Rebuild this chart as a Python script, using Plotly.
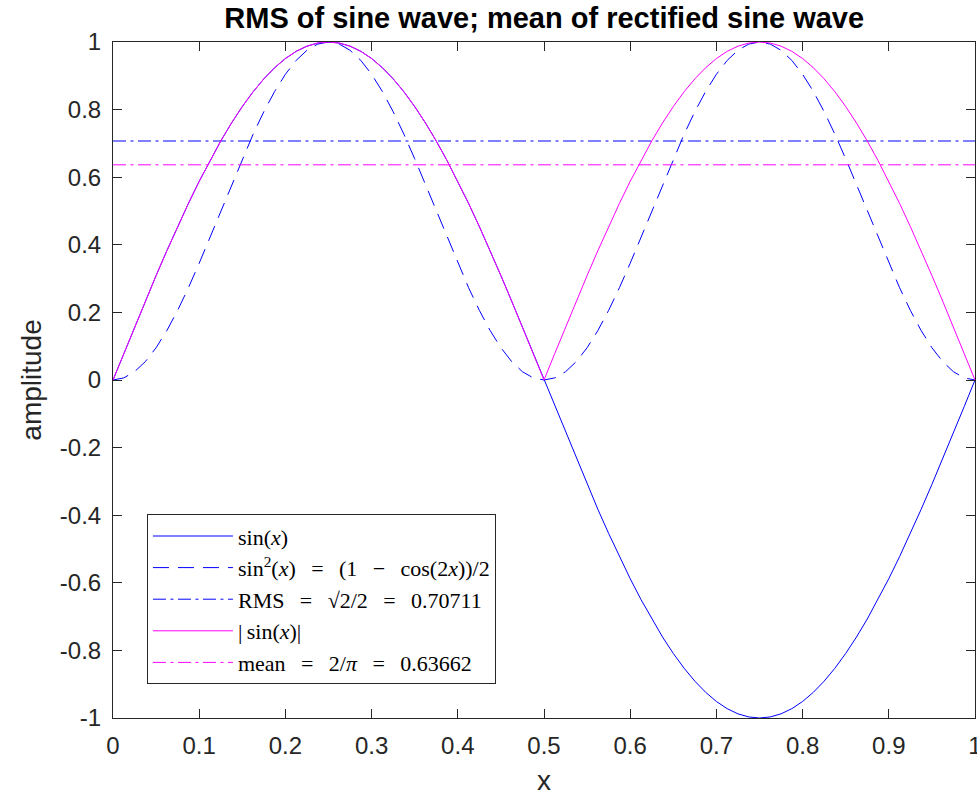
import numpy as np
import plotly.graph_objects as go

# sample grid (x in periods)
x_vals = np.linspace(0, 1, 81)

sin_y = [
    0, .0785, .1564, .2334, .3090, .3827, .4540, .5225, .5878, .6494, .7071, .7604, .8090, .8526, .8910, .9239, .9511, .9724, .9877, .9969, 1,
    .9969, .9877, .9724, .9511, .9239, .8910, .8526, .8090, .7604, .7071, .6494, .5878, .5225, .4540, .3827, .3090, .2334, .1564, .0785, 0,
    -.0785, -.1564, -.2334, -.3090, -.3827, -.4540, -.5225, -.5878, -.6494, -.7071, -.7604, -.8090, -.8526, -.8910, -.9239, -.9511, -.9724, -.9877, -.9969, -1,
    -.9969, -.9877, -.9724, -.9511, -.9239, -.8910, -.8526, -.8090, -.7604, -.7071, -.6494, -.5878, -.5225, -.4540, -.3827, -.3090, -.2334, -.1564, -.0785, 0]

sq_y = [
    0, .0062, .0245, .0545, .0955, .1464, .2061, .2730, .3455, .4218, .5, .5782, .6545, .7270, .7939, .8536, .9045, .9455, .9755, .9938, 1,
    .9938, .9755, .9455, .9045, .8536, .7939, .7270, .6545, .5782, .5, .4218, .3455, .2730, .2061, .1464, .0955, .0545, .0245, .0062, 0,
    .0062, .0245, .0545, .0955, .1464, .2061, .2730, .3455, .4218, .5, .5782, .6545, .7270, .7939, .8536, .9045, .9455, .9755, .9938, 1,
    .9938, .9755, .9455, .9045, .8536, .7939, .7270, .6545, .5782, .5, .4218, .3455, .2730, .2061, .1464, .0955, .0545, .0245, .0062, 0]

abs_y = [
    0, .0785, .1564, .2334, .3090, .3827, .4540, .5225, .5878, .6494, .7071, .7604, .8090, .8526, .8910, .9239, .9511, .9724, .9877, .9969, 1,
    .9969, .9877, .9724, .9511, .9239, .8910, .8526, .8090, .7604, .7071, .6494, .5878, .5225, .4540, .3827, .3090, .2334, .1564, .0785, 0,
    .0785, .1564, .2334, .3090, .3827, .4540, .5225, .5878, .6494, .7071, .7604, .8090, .8526, .8910, .9239, .9511, .9724, .9877, .9969, 1,
    .9969, .9877, .9724, .9511, .9239, .8910, .8526, .8090, .7604, .7071, .6494, .5878, .5225, .4540, .3827, .3090, .2334, .1564, .0785, 0]

rms_x = [0, 1]
rms_y = [0.70711, 0.70711]
mean_x = [0, 1]
mean_y = [0.63662, 0.63662]

x_ticks = [0, 0.1, 0.2, 0.3, 0.4, 0.5, 0.6, 0.7, 0.8, 0.9, 1]
x_ticktext = ["0", "0.1", "0.2", "0.3", "0.4", "0.5", "0.6", "0.7", "0.8", "0.9", "1"]
y_ticks = [-1, -0.8, -0.6, -0.4, -0.2, 0, 0.2, 0.4, 0.6, 0.8, 1]
y_ticktext = ["-1", "-0.8", "-0.6", "-0.4", "-0.2", "0", "0.2", "0.4", "0.6", "0.8", "1"]

S = "\u2002\u2009"  # en + thin space, mimics math spacing around operators
names = [
    "sin(<i>x</i>)",
    f"sin<sup>2</sup>(<i>x</i>){S}={S}(1{S}−{S}cos(2<i>x</i>))/2",
    f"RMS{S}={S}√2/2{S}={S}0.70711",
    "|\u2009sin(<i>x</i>)|",
    f"mean{S}={S}2/<i>π</i>{S}={S}0.63662",
]

BLUE = "#0000ff"
MAG = "#ff00ff"
AX = "#262626"
DASH = "16px,9px"
DASHDOT = "13px,4.5px,3px,4.5px"
SANS = "Arial, Liberation Sans, sans-serif"

fig = go.Figure()
fig.add_trace(go.Scatter(x=x_vals, y=sin_y, mode="lines", name=names[0],
                         line=dict(color=BLUE, width=1)))
fig.add_trace(go.Scatter(x=x_vals, y=sq_y, mode="lines", name=names[1],
                         line=dict(color=BLUE, width=1, dash=DASH)))
fig.add_trace(go.Scatter(x=rms_x, y=rms_y, mode="lines", name=names[2],
                         line=dict(color=BLUE, width=1, dash=DASHDOT)))
fig.add_trace(go.Scatter(x=x_vals, y=abs_y, mode="lines", name=names[3],
                         line=dict(color=MAG, width=1)))
fig.add_trace(go.Scatter(x=mean_x, y=mean_y, mode="lines", name=names[4],
                         line=dict(color=MAG, width=1, dash=DASHDOT)))

axis_common = dict(
    showgrid=False, zeroline=False, showline=True, linecolor=AX, linewidth=1,
    mirror="ticks", ticks="inside", ticklen=9, tickcolor=AX, tickwidth=1,
    tickfont=dict(family=SANS, size=24, color=AX),
    ticklabeloverflow="allow", automargin=False,
)

fig.update_layout(
    width=977, height=796,
    margin=dict(l=113, r=2, t=42, b=78, autoexpand=False),
    paper_bgcolor="white", plot_bgcolor="white",
    title=dict(text="<b>RMS of sine wave; mean of rectified sine wave</b>",
               x=0.557, xanchor="center", y=0.977, yanchor="middle",
               font=dict(family=SANS, size=29, color="black"), automargin=False),
    xaxis=dict(range=[0, 1], tickvals=x_ticks, ticktext=x_ticktext,
               title=dict(text="x", font=dict(family=SANS, size=28, color=AX), standoff=12),
               ticklabelstandoff=6, **axis_common),
    yaxis=dict(range=[-1, 1], tickvals=y_ticks, ticktext=y_ticktext,
               title=dict(text="amplitude", font=dict(family=SANS, size=28, color=AX), standoff=10),
               ticklabelstandoff=6, **axis_common),
    legend=dict(x=0.0394, y=0.05, xanchor="left", yanchor="bottom",
                bgcolor="white", bordercolor=AX, borderwidth=1,
                font=dict(family="Liberation Serif, Times New Roman, serif", size=22, color="black"),
                itemwidth=80, tracegroupgap=0),
    showlegend=True,
)

fig.write_html("out.html")
